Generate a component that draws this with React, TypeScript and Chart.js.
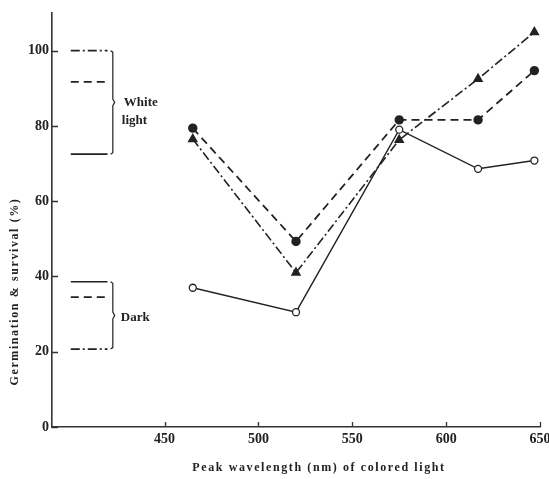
import React, { useEffect, useRef } from "react";
import { Chart, registerables } from "chart.js";

Chart.register(...registerables);

// ---- data ----
const wavelengths = [465, 520, 575, 617, 647];
const solidOpenCircle = [37, 30.5, 79, 68.6, 70.8];
const dashedFilledCircle = [79.4, 49.3, 81.6, 81.6, 94.7];
const dashDotTriangle = [76.5, 41, 76.3, 92.5, 104.9];

const xTickValues = [450, 500, 550, 600, 650];
const yTickValues = [0, 20, 40, 60, 80, 100];

// reference levels drawn at the left (legend-like marks)
const legendLineX = [400, 419.6];
const whiteLightLevels = [100, 91.7, 72.5]; // dash-dot, dashed, solid
const darkLevels = [38.6, 34.5, 20.7]; // solid, dashed, dash-dot
const whiteLightLabel = ["White", "light"];
const darkLabel = ["Dark"];
const bracketX = 422.4;

const xTitle = "Peak wavelength (nm) of colored light";
const yTitle = "Germination & survival (%)";

const INK = "#222";
const SOLID: number[] = [];
const DASHED = [8, 5];
const DASHDOT = [9, 3, 2, 3];

function levelLine(level: number, dash: number[]) {
  return {
    data: legendLineX.map((x) => ({ x, y: level })),
    borderColor: INK,
    borderWidth: 1.6,
    borderDash: dash,
    pointRadius: 0,
    fill: false,
  };
}

function bracket(levels: number[]) {
  const top = Math.max(...levels);
  const bottom = Math.min(...levels);
  const mid = (top + bottom) / 2;
  return {
    data: [
      { x: bracketX - 1.2, y: top },
      { x: bracketX, y: top - 0.4 },
      { x: bracketX, y: mid + 0.9 },
      { x: bracketX + 1, y: mid },
      { x: bracketX, y: mid - 0.9 },
      { x: bracketX, y: bottom + 0.4 },
      { x: bracketX - 1.2, y: bottom },
    ],
    borderColor: INK,
    borderWidth: 1.2,
    pointRadius: 0,
    fill: false,
    tension: 0,
  };
}

const decorPlugin = {
  id: "decor",
  afterDraw(chart: any) {
    const { ctx, chartArea } = chart;
    const xs = chart.scales.x;
    const ys = chart.scales.y;
    ctx.save();
    // inward tick marks
    ctx.strokeStyle = "#333";
    ctx.lineWidth = 1.3;
    ctx.beginPath();
    xTickValues.forEach((v) => {
      const px = Math.round(xs.getPixelForValue(v)) + 0.5;
      ctx.moveTo(px, chartArea.bottom);
      ctx.lineTo(px, chartArea.bottom - 5);
    });
    yTickValues.forEach((v) => {
      const py = Math.round(ys.getPixelForValue(v)) + 0.5;
      ctx.moveTo(chartArea.left, py);
      ctx.lineTo(chartArea.left + 6, py);
    });
    ctx.stroke();

    // group labels
    ctx.fillStyle = INK;
    ctx.font = "bold 13px 'Liberation Serif'";
    ctx.textAlign = "left";
    ctx.textBaseline = "middle";
    const lx = xs.getPixelForValue(bracketX) + 10;
    const wMid = ys.getPixelForValue((Math.max(...whiteLightLevels) + Math.min(...whiteLightLevels)) / 2);
    whiteLightLabel.forEach((t, i) => ctx.fillText(t, lx + (i === 0 ? 1 : -1), wMid + i * 18));
    const dMid = ys.getPixelForValue((Math.max(...darkLevels) + Math.min(...darkLevels)) / 2);
    darkLabel.forEach((t, i) => ctx.fillText(t, lx - 2, dMid + 2 + i * 18));

    // axis titles
    ctx.font = "bold 12px 'Liberation Serif'";
    try {
      (ctx as any).letterSpacing = "1.6px";
    } catch (e) {}
    ctx.textAlign = "center";
    ctx.fillText(xTitle, (chartArea.left + chartArea.right) / 2 + 23, chartArea.bottom + 41);
    ctx.translate(15, ys.getPixelForValue(36));
    ctx.rotate(-Math.PI / 2);
    ctx.fillText(yTitle, 0, 0);
    ctx.restore();
  },
};

export default function App() {
  const ref = useRef<HTMLCanvasElement | null>(null);

  useEffect(() => {
    if (!ref.current) return;
    const chart = new Chart(ref.current, {
      type: "line",
      data: {
        datasets: [
          levelLine(whiteLightLevels[0], DASHDOT),
          levelLine(whiteLightLevels[1], DASHED),
          levelLine(whiteLightLevels[2], SOLID),
          levelLine(darkLevels[0], SOLID),
          levelLine(darkLevels[1], DASHED),
          levelLine(darkLevels[2], DASHDOT),
          bracket(whiteLightLevels),
          bracket(darkLevels),
          {
            data: wavelengths.map((x, i) => ({ x, y: solidOpenCircle[i] })),
            borderColor: INK,
            borderWidth: 1.4,
            pointStyle: "circle",
            pointRadius: 3.5,
            pointBackgroundColor: "#fff",
            pointBorderColor: INK,
            pointBorderWidth: 1.3,
            fill: false,
          },
          {
            data: wavelengths.map((x, i) => ({ x, y: dashedFilledCircle[i] })),
            borderColor: INK,
            borderWidth: 1.8,
            borderDash: DASHED,
            pointStyle: "circle",
            pointRadius: 3.8,
            pointBackgroundColor: INK,
            pointBorderColor: INK,
            fill: false,
          },
          {
            data: wavelengths.map((x, i) => ({ x, y: dashDotTriangle[i] })),
            borderColor: INK,
            borderWidth: 1.6,
            borderDash: DASHDOT,
            pointStyle: "triangle",
            pointRadius: 4.5,
            pointBackgroundColor: INK,
            pointBorderColor: INK,
            fill: false,
          },
        ] as any,
      },
      options: {
        animation: false,
        responsive: false,
        devicePixelRatio: 1,
        layout: { padding: { left: 0, top: 13, right: 9, bottom: 0 } },
        plugins: { legend: { display: false }, tooltip: { enabled: false } },
        scales: {
          x: {
            type: "linear",
            min: 390,
            max: 650,
            grid: { display: false, drawTicks: false },
            border: { display: true, color: "#333", width: 1.6 },
            ticks: {
              color: INK,
              font: { family: "'Liberation Serif'", size: 14, weight: "bold" },
              padding: 4,
              maxRotation: 0,
            },
            afterBuildTicks: (s: any) => {
              s.ticks = xTickValues.map((value) => ({ value }));
            },
            afterFit: (s: any) => {
              s.height = 52;
              s.paddingLeft = 0;
              s.paddingRight = 0;
            },
          },
          y: {
            type: "linear",
            min: 0,
            max: 110,
            grid: { display: false, drawTicks: false },
            border: { display: true, color: "#333", width: 1.6 },
            ticks: {
              color: INK,
              font: { family: "'Liberation Serif'", size: 14, weight: "bold" },
              padding: 3,
            },
            afterBuildTicks: (s: any) => {
              s.ticks = yTickValues.map((value) => ({ value }));
            },
            afterFit: (s: any) => {
              s.width = 52;
              s.paddingTop = 0;
              s.paddingBottom = 0;
            },
          },
        },
      } as any,
      plugins: [decorPlugin],
    });
    return () => chart.destroy();
  }, []);

  return (
    <div style={{ position: "fixed", left: 0, top: 0, width: 549, height: 479, background: "#fff" }}>
      <canvas ref={ref} width={549} height={479} />
    </div>
  );
}
